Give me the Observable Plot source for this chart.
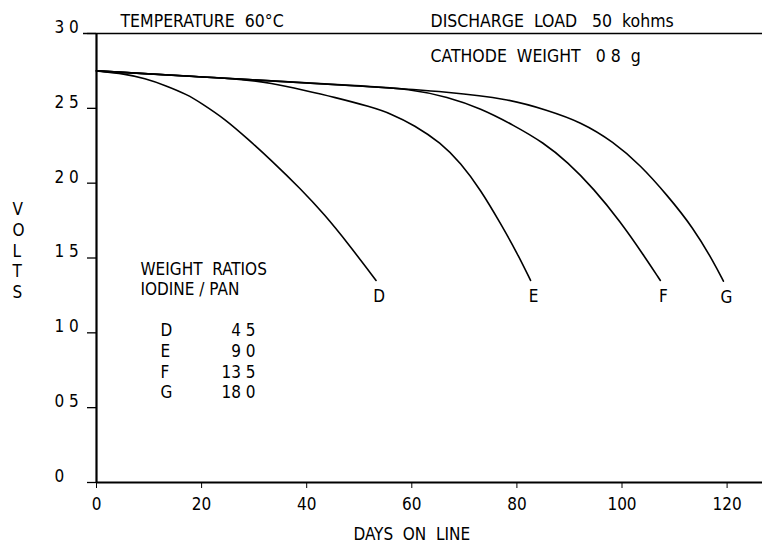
<!DOCTYPE html>
<html><head><meta charset="utf-8">
<script src="https://cdn.jsdelivr.net/npm/d3@7"></script>
<script src="https://cdn.jsdelivr.net/npm/@observablehq/plot@0.6"></script>
<style>
body{margin:0;background:#fff}
#chart svg{font-family:"Liberation Sans Narrow","DejaVu Sans Condensed",sans-serif}
</style></head><body><div id="chart"></div>
<script>
// ---- data ----
const seriesNames = ["D", "E", "F", "G"];
const daysD  = [0, 5.4, 9.2, 13, 17.4, 19.9, 24.4, 28.8, 33.2, 38.9, 43.4, 47.8, 53.2];
const voltsD = [2.75, 2.73, 2.70, 2.655, 2.59, 2.535, 2.43, 2.295, 2.155, 1.96, 1.79, 1.60, 1.35];
const daysE  = [0, 15, 28, 33, 39.6, 45.2, 52.2, 56, 60.5, 65.5, 69.3, 73.1, 76.9, 80.1, 82.6];
const voltsE = [2.75, 2.72, 2.695, 2.67, 2.62, 2.575, 2.51, 2.465, 2.387, 2.27, 2.135, 1.955, 1.73, 1.53, 1.35];
const daysF  = [0, 30, 50, 59.8, 66.8, 73.1, 79.4, 85.1, 89.6, 94.6, 99.7, 104.1, 107.3];
const voltsF = [2.75, 2.69, 2.65, 2.63, 2.576, 2.50, 2.387, 2.27, 2.142, 1.964, 1.742, 1.52, 1.35];
const daysG  = [0, 30, 54.1, 66.8, 78.2, 85.8, 92.1, 98.4, 103.5, 108.6, 113.6, 117.4, 119.3];
const voltsG = [2.75, 2.69, 2.642, 2.61, 2.565, 2.487, 2.41, 2.276, 2.12, 1.92, 1.70, 1.475, 1.345];

const ratioSeries = ["D", "E", "F", "G"];
const ratioValues = ["4 5", "9 0", "13 5", "18 0"];

const xTicks = [0, 20, 40, 60, 80, 100, 120];
const yTicks = [0, 0.5, 1, 1.5, 2, 2.5, 3];
const yTickLabels = ["0", "0 5", "1 0", "1 5", "2 0", "2 5", "3 0"];

const titleLeft = "TEMPERATURE  60°C";
const titleRight = "DISCHARGE  LOAD   50  kohms";
const subRight = "CATHODE  WEIGHT   0 8  g";
const legendTitle = "WEIGHT  RATIOS\nIODINE / PAN";
const xLabel = "DAYS  ON  LINE";
const yLabel = "VOLTS";

// ---- build table ----
const allDays = [daysD, daysE, daysF, daysG];
const allVolts = [voltsD, voltsE, voltsF, voltsG];
const rows = [];
seriesNames.forEach((s, k) => allDays[k].forEach((d, i) => rows.push({series: s, day: d, volt: allVolts[k][i]})));
const ends = seriesNames.map((s, k) => ({series: s, day: allDays[k][allDays[k].length - 1], volt: allVolts[k][allVolts[k].length - 1]}));

const W = 762, H = 549, mL = 96, mT = 33, mB = 67, mR = 0;
const pxPerDay = 5.255;
const xMax = (W - mL - mR) / pxPerDay;
const fs = 17;

const chart = Plot.plot({
  width: W, height: H,
  marginLeft: mL, marginRight: mR, marginTop: mT, marginBottom: mB,
  style: {background: "#fff", color: "#000", fontSize: fs + "px"},
  x: {domain: [0, xMax]},
  y: {domain: [0, 3]},
  marks: [
    Plot.ruleY([3], {stroke: "#000", strokeWidth: 1.5, insetLeft: -13}),
    Plot.ruleY([0], {stroke: "#000", strokeWidth: 2.2}),
    Plot.ruleX([0], {stroke: "#000", strokeWidth: 2.2}),
    Plot.axisY({ticks: yTicks, tickSize: 9, tickFormat: () => "", label: null, stroke: "#000", strokeWidth: 1.3}),
    Plot.text(yTicks, {y: d => d, text: (d, i) => yTickLabels[i], frameAnchor: "left", textAnchor: "start", dx: -42, dy: -6, fontSize: fs}),
    Plot.axisX({ticks: xTicks, tickSize: 6, tickPadding: 9, label: null, stroke: "#000", fontSize: fs}),
    Plot.text([xLabel], {x: 60, frameAnchor: "bottom", dy: 57, fontSize: fs}),
    Plot.text([yLabel.split("").join("\n")], {frameAnchor: "left", dx: -84, dy: -8, lineHeight: 1.22, fontSize: fs}),
    Plot.line(rows, {x: "day", y: "volt", z: "series", curve: "basis", stroke: "#000", strokeWidth: 1.6}),
    Plot.text(ends, {x: "day", y: "volt", text: "series", dx: 3, dy: 16, fontSize: fs}),
    Plot.text([titleLeft], {frameAnchor: "top-left", dx: 24, dy: -19, textAnchor: "start", fontSize: fs + 0.5}),
    Plot.text([titleRight], {frameAnchor: "top-left", dx: 334, dy: -19, textAnchor: "start", fontSize: fs + 0.5}),
    Plot.text([subRight], {frameAnchor: "top-left", dx: 334, dy: 16, textAnchor: "start", fontSize: fs + 0.5}),
    Plot.text([legendTitle], {frameAnchor: "top-left", dx: 44, dy: 245, textAnchor: "start", lineAnchor: "middle", lineHeight: 1.2, fontSize: fs}),
    Plot.text([ratioSeries.join("\n")], {frameAnchor: "top-left", dx: 64, dy: 327, textAnchor: "start", lineAnchor: "middle", lineHeight: 1.22, fontSize: fs}),
    Plot.text([ratioValues.join("\n")], {frameAnchor: "top-left", dx: 159, dy: 327, textAnchor: "end", lineAnchor: "middle", lineHeight: 1.22, fontSize: fs})
  ]
});
document.getElementById("chart").appendChild(chart);
</script></body></html>
